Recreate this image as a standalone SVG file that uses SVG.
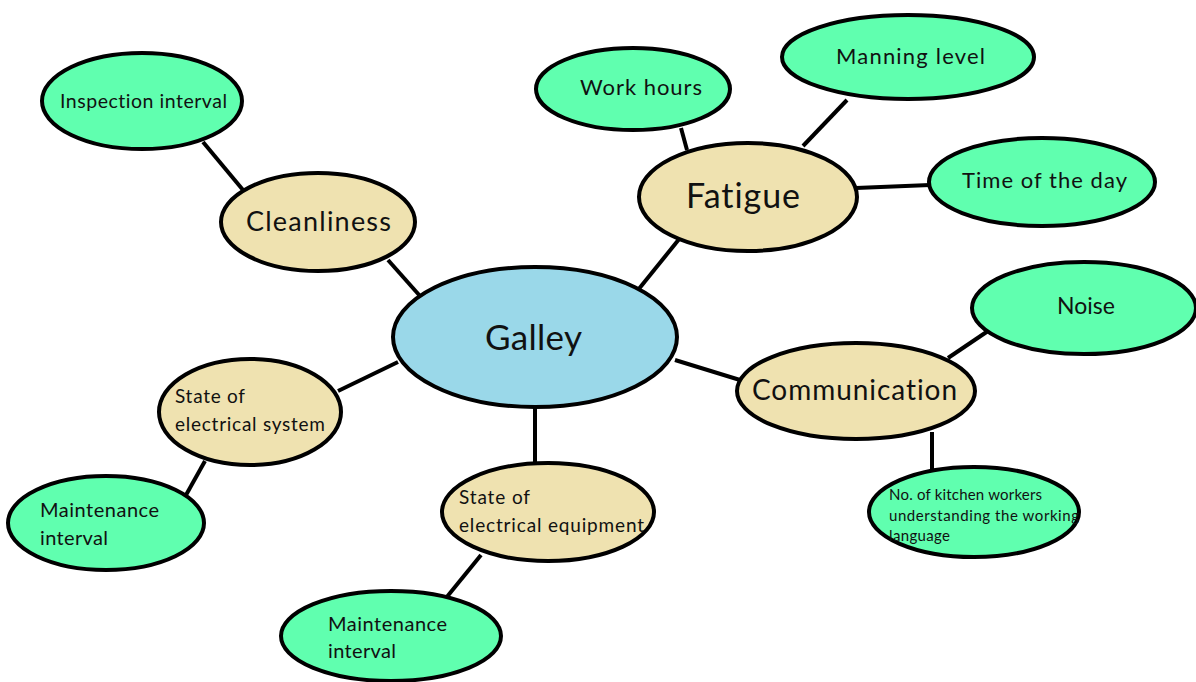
<svg xmlns="http://www.w3.org/2000/svg" width="1196" height="682" viewBox="0 0 1196 682">
<style>
.n{stroke:#000;stroke-width:4}
.g{fill:#60FFAF}
.t{fill:#EFE2B0}
.b{fill:#9AD8E9}
text{font-family:Lato,"Noto Sans","Liberation Sans",sans-serif;fill:#111;font-variant-ligatures:none}
.c{stroke:#000;stroke-width:4;fill:none}
</style>
<rect width="1196" height="682" fill="#fff"/>
<g id="connectors">
<line class="c" x1="203" y1="142" x2="243" y2="190"/>
<line class="c" x1="388" y1="260" x2="420" y2="296"/>
<line class="c" x1="681" y1="128" x2="687" y2="150"/>
<line class="c" x1="847" y1="100" x2="803" y2="146"/>
<line class="c" x1="856" y1="188" x2="930" y2="185"/>
<line class="c" x1="680" y1="238" x2="638" y2="290"/>
<line class="c" x1="948" y1="358" x2="988" y2="331"/>
<line class="c" x1="675" y1="360" x2="740" y2="380"/>
<line class="c" x1="932" y1="432" x2="932" y2="472"/>
<line class="c" x1="398" y1="362" x2="338" y2="391"/>
<line class="c" x1="205" y1="461" x2="186" y2="495"/>
<line class="c" x1="535" y1="405" x2="535" y2="465"/>
<line class="c" x1="481" y1="555" x2="446" y2="598"/>
</g>
<g id="inspection"><ellipse class="n g" cx="142" cy="101" rx="100" ry="48"/><text x="60" y="108" font-size="19.5" textLength="167" lengthAdjust="spacing">Inspection interval</text></g>
<g id="cleanliness"><ellipse class="n t" cx="318" cy="222" rx="97" ry="49"/><text x="246" y="231" font-size="27" textLength="145" lengthAdjust="spacing">Cleanliness</text></g>
<g id="galley"><ellipse class="n b" cx="535" cy="337" rx="142" ry="70"/><text x="485" y="350" font-size="35" textLength="97" lengthAdjust="spacing">Galley</text></g>
<g id="fatigue"><ellipse class="n t" cx="748" cy="197" rx="109" ry="54"/><text x="686" y="208" font-size="34" textLength="114" lengthAdjust="spacing">Fatigue</text></g>
<g id="workhours"><ellipse class="n g" cx="633" cy="89" rx="97" ry="41"/><text x="580" y="95" font-size="22" textLength="122" lengthAdjust="spacing">Work hours</text></g>
<g id="manning"><ellipse class="n g" cx="908" cy="57" rx="126" ry="42"/><text x="836" y="64" font-size="22" textLength="149" lengthAdjust="spacing">Manning level</text></g>
<g id="timeofday"><ellipse class="n g" cx="1042" cy="182" rx="113" ry="44"/><text x="962" y="188" font-size="22" textLength="165" lengthAdjust="spacing">Time of the day</text></g>
<g id="noise"><ellipse class="n g" cx="1084" cy="308" rx="112" ry="46"/><text x="1057" y="314" font-size="23" textLength="58" lengthAdjust="spacing">Noise</text></g>
<g id="communication"><ellipse class="n t" cx="856" cy="391" rx="119" ry="48"/><text x="752" y="400" font-size="28" textLength="205" lengthAdjust="spacing">Communication</text></g>
<g id="kitchenworkers"><ellipse class="n g" cx="974" cy="512" rx="105" ry="45"/><text x="889" y="500" font-size="15" textLength="153" lengthAdjust="spacing">No. of kitchen workers</text><text x="889" y="521" font-size="15" textLength="190" lengthAdjust="spacing">understanding the working</text><text x="889" y="541" font-size="15" textLength="61" lengthAdjust="spacing">language</text></g>
<g id="elecsystem"><ellipse class="n t" cx="250" cy="412" rx="91" ry="53"/><text x="175" y="403" font-size="19" textLength="70" lengthAdjust="spacing">State of</text><text x="175" y="431" font-size="19" textLength="150" lengthAdjust="spacing">electrical system</text></g>
<g id="maint1"><ellipse class="n g" cx="106" cy="523" rx="98" ry="47"/><text x="40" y="517" font-size="20" textLength="119" lengthAdjust="spacing">Maintenance</text><text x="40" y="545" font-size="20" textLength="68" lengthAdjust="spacing">interval</text></g>
<g id="elecequipment"><ellipse class="n t" cx="548" cy="512" rx="106" ry="49"/><text x="459" y="504" font-size="19" textLength="71" lengthAdjust="spacing">State of</text><text x="459" y="532" font-size="19" textLength="185" lengthAdjust="spacing">electrical equipment</text></g>
<g id="maint2"><ellipse class="n g" cx="391" cy="636" rx="110" ry="45"/><text x="328" y="631" font-size="20" textLength="119" lengthAdjust="spacing">Maintenance</text><text x="328" y="658" font-size="20" textLength="68" lengthAdjust="spacing">interval</text></g>
</svg>
